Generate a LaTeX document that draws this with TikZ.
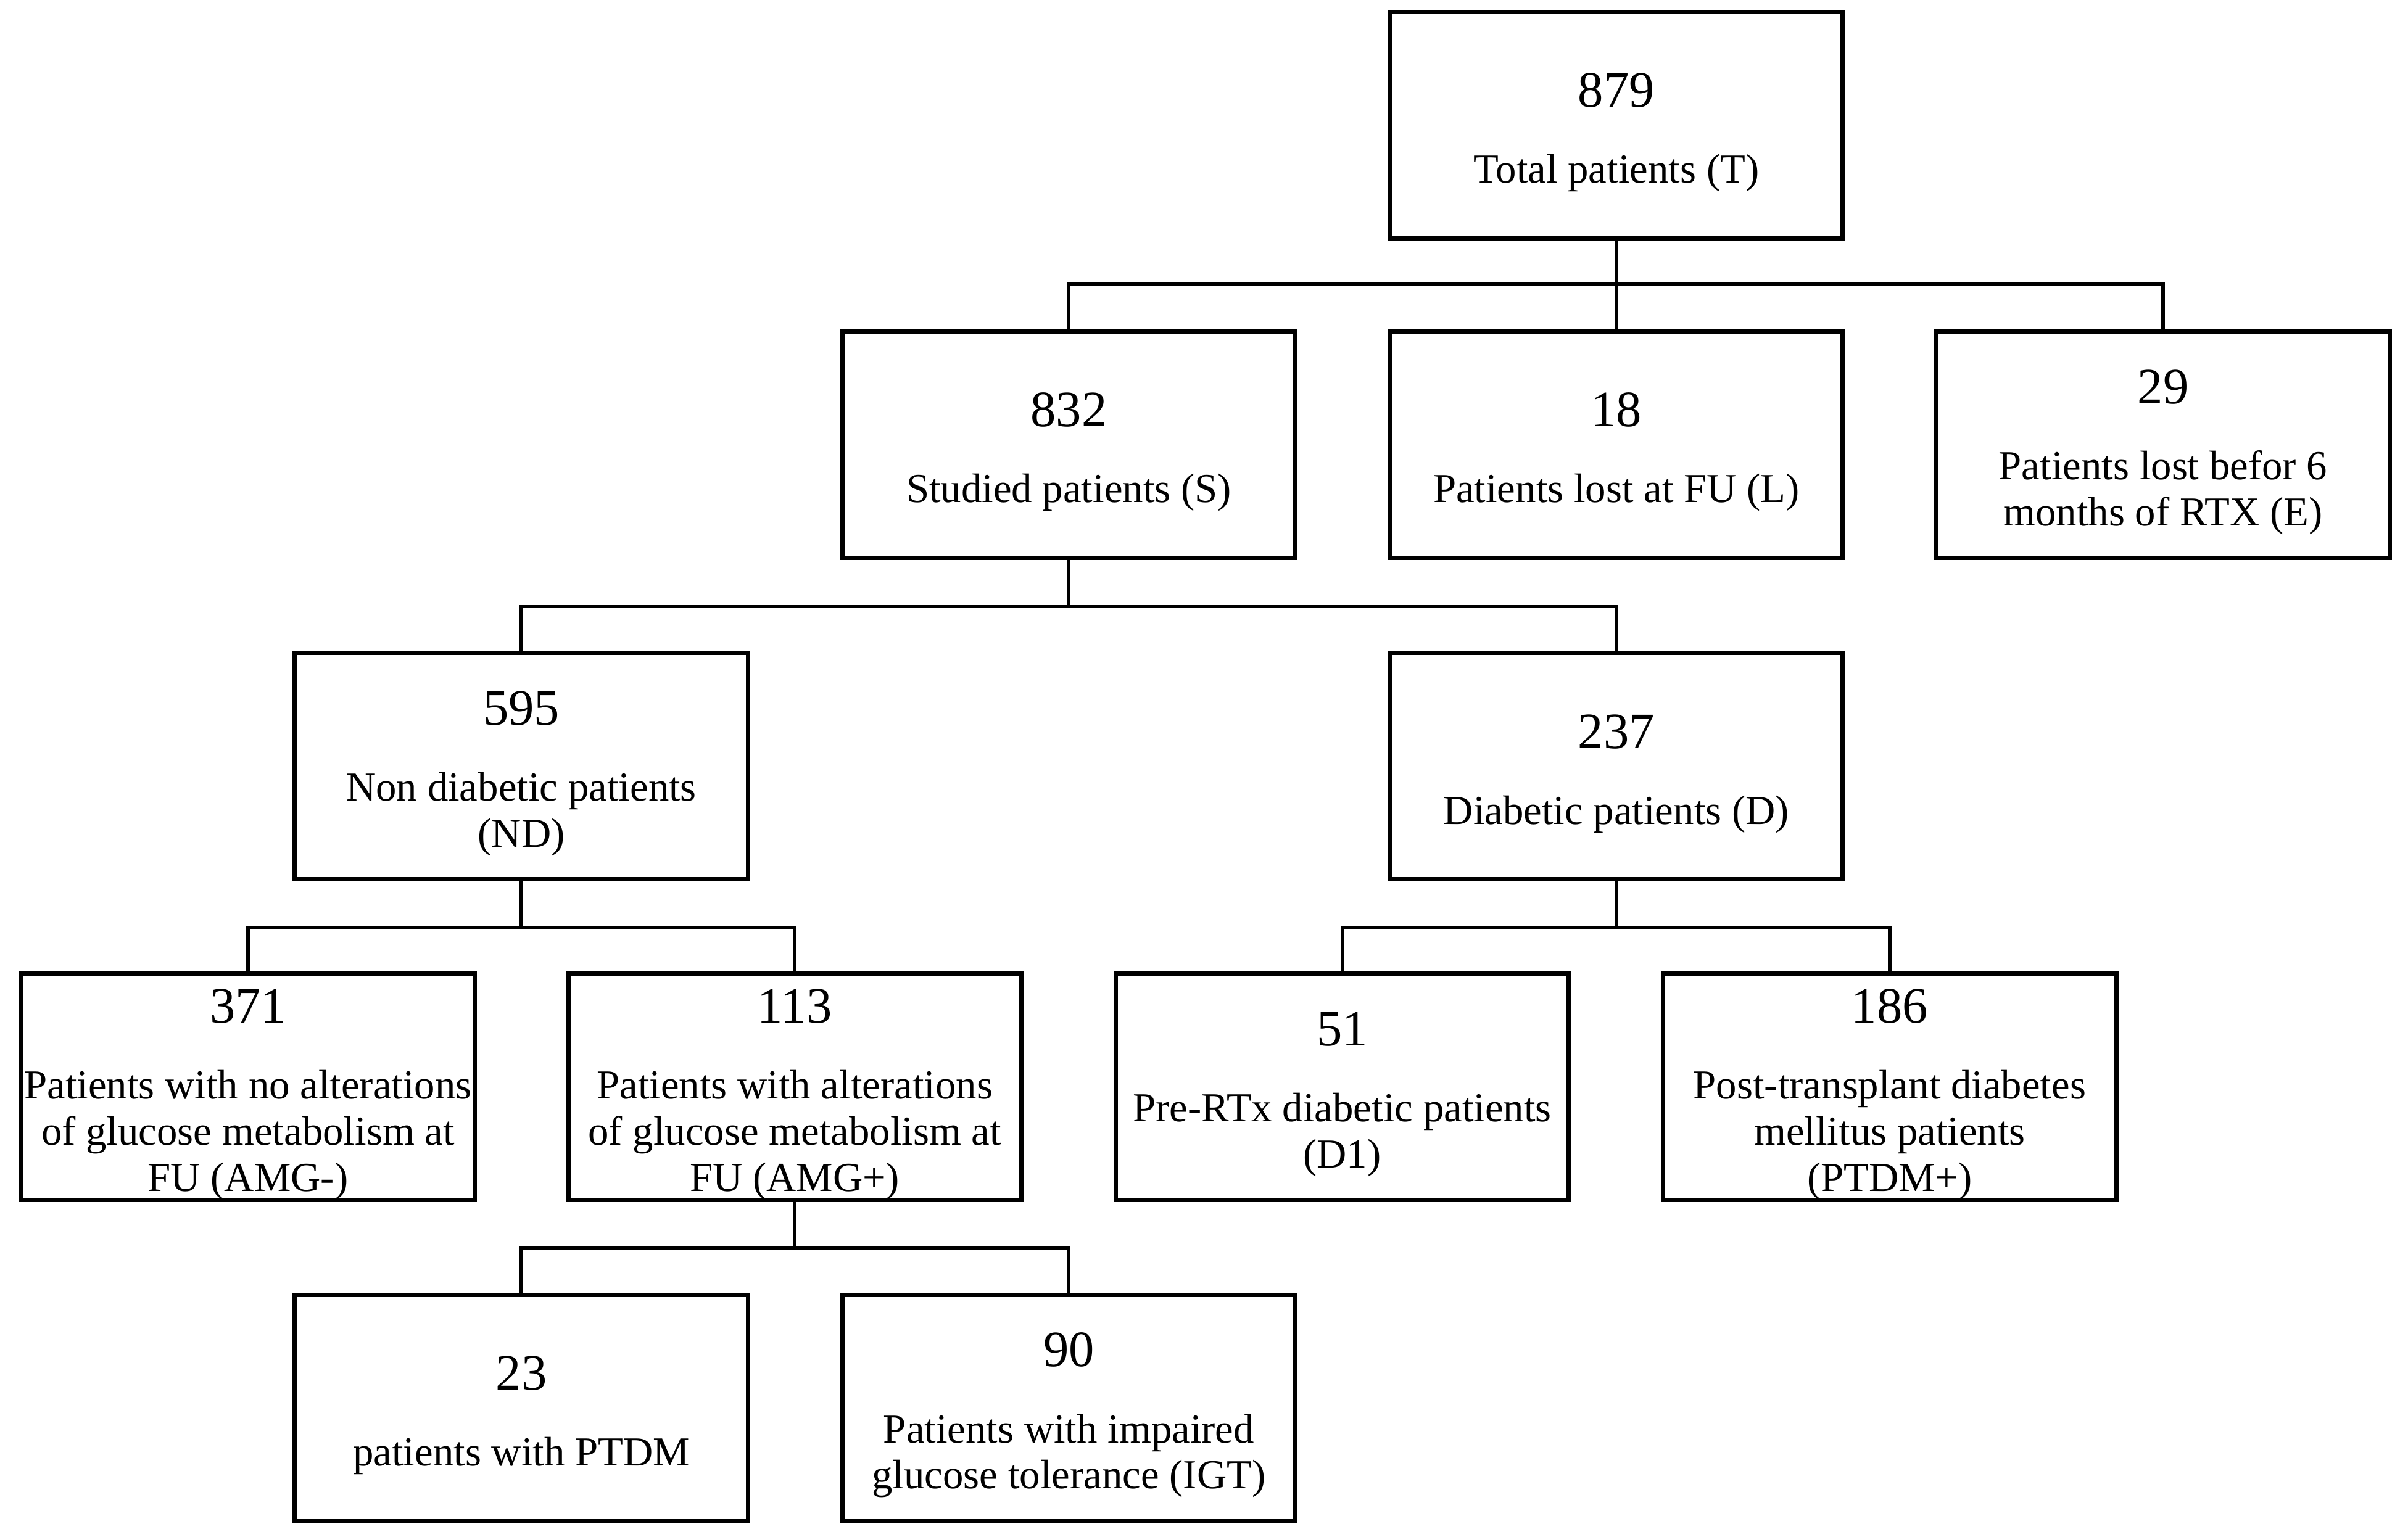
\documentclass[tikz,border=0pt]{standalone}
\usepackage{fontspec}
\setmainfont{Liberation Serif}
\newcommand{\nbr}[1]{{\fontsize{23.5}{26}\selectfont\rule{0pt}{22.5pt}#1}}
\begin{document}
\begin{tikzpicture}[x=0.02489cm,y=-0.02489cm,
  box/.style={draw=black,line width=2pt,fill=white,inner sep=0pt,
    minimum width=7.34cm,minimum height=3.67cm,align=center,
    font=\fontsize{19}{21.3}\selectfont},
  link/.style={draw=black,line width=1.5pt}]
\useasboundingbox (0,0) rectangle (1568,1001);

\node[box] (T) at (1052.5,81.5) {\nbr{879}\\[13.7pt]Total patients (T)};
\node[box] (S) at (696,289.5) {\nbr{832}\\[13.7pt]Studied patients (S)};
\node[box] (L) at (1052.5,289.5) {\nbr{18}\\[13.7pt]Patients lost at FU (L)};
\node[box] (E) at (1408.5,289.5) {\nbr{29}\\[13.7pt]Patients lost befor 6\\months of RTX (E)};
\node[box] (ND) at (339.5,499) {\nbr{595}\\[13.7pt]Non diabetic patients\\(ND)};
\node[box] (D) at (1052.5,499) {\nbr{237}\\[13.7pt]Diabetic patients (D)};
\node[box] (AMGm) at (161.5,708) {\nbr{371}\\[13.7pt]Patients with no alterations\\of glucose metabolism at\\FU (AMG-)};
\node[box] (AMGp) at (517.5,708) {\nbr{113}\\[13.7pt]Patients with alterations\\of glucose metabolism at\\FU (AMG+)};
\node[box] (D1) at (874,708) {\nbr{51}\\[13.7pt]Pre-RTx diabetic patients\\(D1)};
\node[box] (PTDMp) at (1230.5,708) {\nbr{186}\\[13.7pt]Post-transplant diabetes\\mellitus patients\\(PTDM+)};
\node[box] (PTDM) at (339.5,917) {\nbr{23}\\[13.7pt]patients with PTDM};
\node[box] (IGT) at (696,917) {\nbr{90}\\[13.7pt]Patients with impaired\\glucose tolerance (IGT)};

\coordinate (j1) at (1052.5,185);
\coordinate (j2) at (696,395);
\coordinate (j3) at (339.5,604);
\coordinate (j4) at (1052.5,604);
\coordinate (j5) at (517.5,813);

\draw[link] (T.south) -- (j1);
\draw[link] (S.north) |- (j1) -| (E.north);
\draw[link] (j1) -- (L.north);

\draw[link] (S.south) -- (j2);
\draw[link] (ND.north) |- (j2) -| (D.north);

\draw[link] (ND.south) -- (j3);
\draw[link] (AMGm.north) |- (j3) -| (AMGp.north);

\draw[link] (D.south) -- (j4);
\draw[link] (D1.north) |- (j4) -| (PTDMp.north);

\draw[link] (AMGp.south) -- (j5);
\draw[link] (PTDM.north) |- (j5) -| (IGT.north);
\end{tikzpicture}
\end{document}
